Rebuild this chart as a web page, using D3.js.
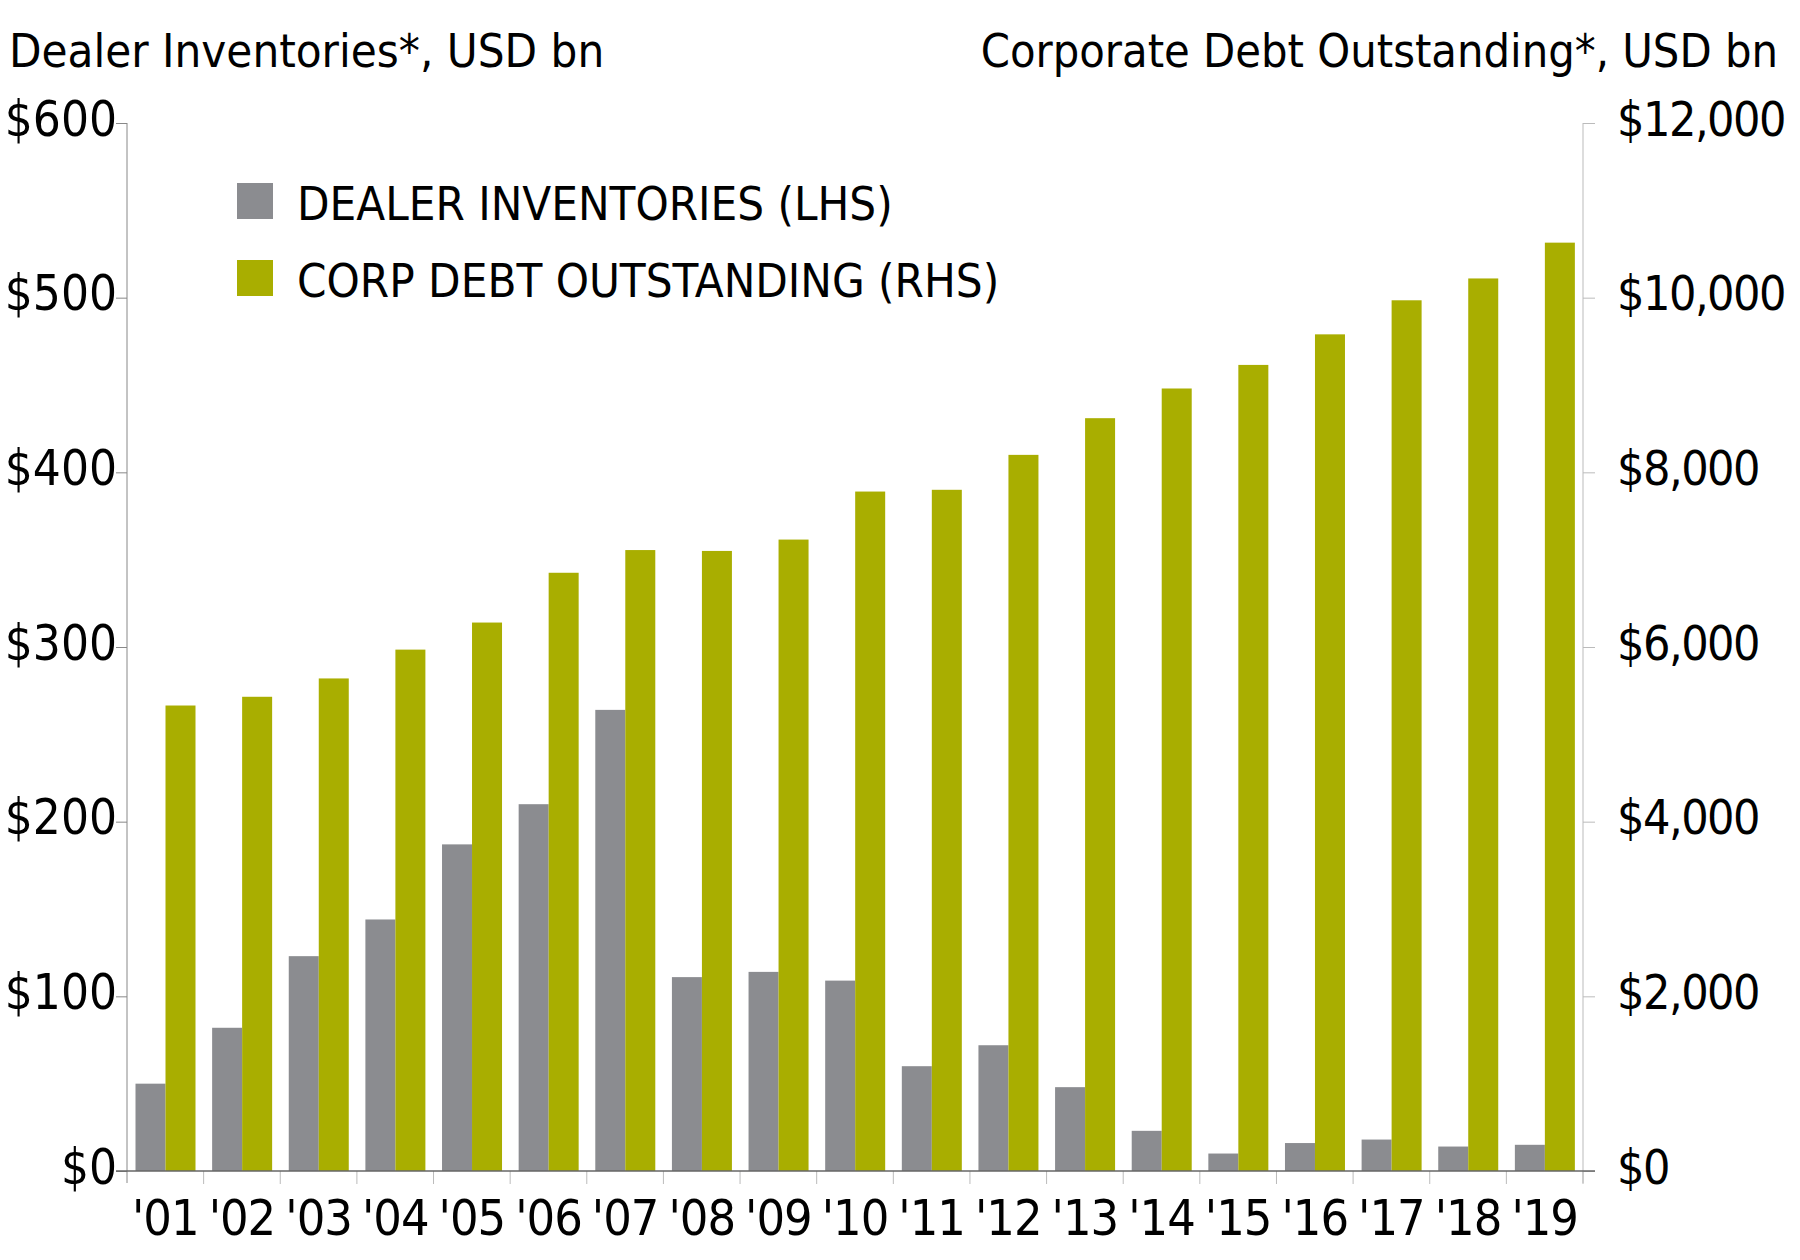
<!DOCTYPE html>
<html>
<head>
<meta charset="utf-8">
<script src="https://cdn.jsdelivr.net/npm/d3@7"></script>
<style>
  body { margin: 0; background: #fff; }
  text { font-family: "DejaVu Sans Condensed", "Liberation Sans Narrow", sans-serif; fill: #000; }
</style>
</head>
<body>
<svg id="chart" width="1800" height="1260"></svg>
<script>
// data
const years = ["'01", "'02", "'03", "'04", "'05", "'06", "'07", "'08", "'09", "'10",
  "'11", "'12", "'13", "'14", "'15", "'16", "'17", "'18", "'19"];
const dealerInventories = [50, 82, 123, 144, 187, 210, 264, 111, 114, 109,
  60, 72, 48, 23, 10, 16, 18, 14, 15];
const corpDebt = [5330, 5430, 5640, 5970, 6280, 6850, 7110, 7100, 7230, 7780,
  7800, 8200, 8620, 8960, 9230, 9580, 9970, 10220, 10630];
const leftTicks = [0, 100, 200, 300, 400, 500, 600];
const rightTicks = [0, 2000, 4000, 6000, 8000, 10000, 12000];
const legendItems = ["DEALER INVENTORIES (LHS)", "CORP DEBT OUTSTANDING (RHS)"];

const grey = "#8b8c90";
const olive = "#a9ae00";

const svg = d3.select("#chart");

// grootte van het plot gebied
const plotLeft = 127, plotRight = 1583, plotTop = 123, plotBottom = 1171;

const x = d3.scaleBand().domain(years).range([plotLeft, plotRight]).paddingInner(0);
const x1 = d3.scaleBand().domain(["dealer", "corp"]).range([8.5, 68.5]);
const yL = d3.scaleLinear().domain([0, 600]).range([plotBottom, plotTop]);
const yR = d3.scaleLinear().domain([0, 12000]).range([plotBottom, plotTop]);

// bars
const groups = svg.append("g").selectAll("g").data(years).join("g")
  .attr("transform", (d) => "translate(" + x(d) + ",0)");

groups.append("rect")
  .attr("x", x1("dealer"))
  .attr("width", x1.bandwidth())
  .attr("y", (d, i) => yL(dealerInventories[i]))
  .attr("height", (d, i) => plotBottom - yL(dealerInventories[i]))
  .attr("fill", grey);

groups.append("rect")
  .attr("x", x1("corp"))
  .attr("width", x1.bandwidth())
  .attr("y", (d, i) => yR(corpDebt[i]))
  .attr("height", (d, i) => plotBottom - yR(corpDebt[i]))
  .attr("fill", olive);

// linker as
const gL = svg.append("g").attr("transform", "translate(" + plotLeft + ",0)")
  .call(d3.axisLeft(yL).tickValues(leftTicks).tickSize(11).tickSizeOuter(0)
    .tickFormat((d) => "$" + d));
gL.select(".domain").attr("stroke", "#888").attr("d", "M0," + plotTop + "V" + (plotBottom + 12));
gL.selectAll(".tick line").attr("stroke", "#888");
gL.selectAll(".tick text")
  .attr("x", -10).attr("dy", 12)
  .style("font-size", "49px");

// rechter as
const gR = svg.append("g").attr("transform", "translate(" + plotRight + ",0)")
  .call(d3.axisRight(yR).tickValues(rightTicks).tickSize(12).tickSizeOuter(0)
    .tickFormat((d) => "$" + d3.format(",")(d)));
gR.select(".domain").attr("stroke", "#bbb").attr("d", "M0," + plotTop + "V" + (plotBottom + 12));
gR.selectAll(".tick line").attr("stroke", "#bbb");
gR.selectAll(".tick text")
  .attr("x", 34).attr("dy", 12)
  .style("font-size", "48px")
  .style("letter-spacing", "-1.5px");

// x-as
const gX = svg.append("g").attr("transform", "translate(0," + plotBottom + ")")
  .call(d3.axisBottom(x).tickSize(0).tickSizeOuter(0));
gX.select(".domain").remove();
gX.selectAll(".tick text")
  .attr("y", 64).attr("dy", 0)
  .style("font-size", "50px")
  .style("letter-spacing", "-1px");

// scheidingsstreepjes tussen de jaren
svg.append("g").selectAll("line")
  .data(years.slice(1).concat(["end"]))
  .join("line")
  .attr("x1", (d) => (d === "end" ? plotRight : x(d)))
  .attr("x2", (d) => (d === "end" ? plotRight : x(d)))
  .attr("y1", plotBottom)
  .attr("y2", plotBottom + 13)
  .attr("stroke", "#bbb");

// basislijn
svg.append("line")
  .attr("x1", plotLeft - 11).attr("x2", plotRight + 12)
  .attr("y1", plotBottom).attr("y2", plotBottom)
  .attr("stroke", "#666").attr("stroke-width", 1.5);

// titels
svg.append("text")
  .attr("x", 9).attr("y", 67)
  .style("font-size", "47px")
  .text("Dealer Inventories*, USD bn");

svg.append("text")
  .attr("x", 1778).attr("y", 67)
  .attr("text-anchor", "end")
  .style("font-size", "46.5px")
  .text("Corporate Debt Outstanding*, USD bn");

// legenda
const legend = svg.append("g").selectAll("g").data(legendItems).join("g")
  .attr("transform", (d, i) => "translate(237," + (183 + i * 77) + ")");

legend.append("rect")
  .attr("width", 36).attr("height", 36)
  .attr("fill", (d, i) => (i === 0 ? grey : olive));

legend.append("text")
  .attr("x", 60).attr("y", 37)
  .style("font-size", "47px")
  .text((d) => d);
</script>
</body>
</html>
